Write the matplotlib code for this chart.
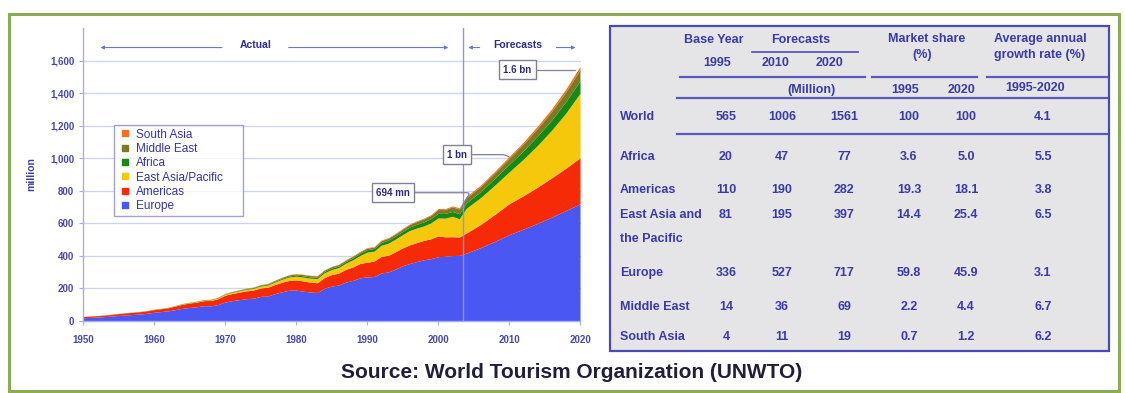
import matplotlib
matplotlib.use("Agg")
import matplotlib.pyplot as plt
from matplotlib.lines import Line2D
from matplotlib.patches import Rectangle
from matplotlib.ticker import FuncFormatter

plt.rcParams['font.family'] = ['Liberation Sans', 'DejaVu Sans']

# ---------------- data ----------------
years = list(range(1950, 2004)) + [2004, 2006, 2008, 2010, 2012, 2014, 2016, 2018, 2020]

europe = [16.8, 19, 21, 23.5, 27, 31, 34, 37, 39.5, 44,
          50.4, 55, 59, 67, 75, 80, 84, 91, 90, 98,
          113, 122, 128, 134, 137, 148, 150, 165, 176, 186,
          187, 180, 175, 172, 198, 212, 218, 236, 246, 262,
          268, 270, 292, 298, 316, 336, 350, 362, 373, 380,
          392, 394, 399, 400,
          414, 448, 486, 527, 561, 597, 635, 675, 717]
americas = [7.5, 8.3, 8.5, 9.5, 10.5, 11.5, 12.5, 13.5, 14.5, 15.5,
            16.7, 17.5, 19.5, 22, 25, 27, 29, 31, 33, 36,
            42.3, 44, 46, 48, 50, 52, 54, 56, 59, 60,
            62, 63, 60, 60, 66, 70, 73, 78, 83, 88,
            90, 95, 102, 103, 106, 110, 115, 117, 119, 122,
            128, 120, 116, 113,
            124, 142, 166, 190, 205, 222, 241, 261, 282]
east_asia_pacific = [0.2, 0.2, 0.3, 0.3, 0.3, 0.4, 0.4, 0.5, 0.5, 0.6,
                     0.7, 0.9, 1.2, 1.5, 2.0, 2.3, 2.8, 3.4, 4.0, 4.8,
                     6.2, 7.0, 8.5, 9.5, 10.5, 11.5, 13, 15, 18, 21,
                     23, 24, 25, 26, 29, 31, 34, 38, 44, 49,
                     62, 61, 68, 74, 78, 81, 88, 89, 89, 98,
                     110, 115, 125, 112,
                     152, 165, 180, 195, 224, 256, 293, 338, 397]
africa = [0.5, 0.5, 0.5, 0.5, 0.6, 0.6, 0.6, 0.7, 0.7, 0.7,
          0.8, 0.9, 1.0, 1.1, 1.3, 1.5, 1.6, 1.7, 1.9, 2.1,
          2.4, 2.7, 3.0, 3.3, 3.6, 4.2, 4.5, 5.0, 5.5, 6.3,
          7.2, 7.5, 7.8, 8.0, 8.5, 9.5, 9.5, 10, 12, 13.5,
          15.2, 16, 17.5, 18.5, 19, 20, 21, 23, 25, 26,
          28, 29, 30, 31,
          33, 37, 42, 47, 52, 58, 63, 70, 77]
middle_east = [0.2, 0.2, 0.2, 0.3, 0.3, 0.3, 0.4, 0.4, 0.5, 0.5,
               0.6, 0.7, 0.8, 0.9, 1.0, 1.1, 1.2, 1.3, 1.4, 1.6,
               1.9, 2.2, 2.5, 2.8, 3.0, 4.0, 4.4, 5.0, 5.5, 6.5,
               7.1, 7.5, 7.8, 8.0, 8.0, 8.0, 8.5, 8.5, 9.0, 9.0,
               9.6, 8.5, 11, 12, 13, 14, 15, 17, 18, 19,
               24, 23, 28, 29,
               32, 31, 33, 36, 41, 47, 53, 61, 69]
south_asia = [0.04, 0.05, 0.05, 0.05, 0.06, 0.07, 0.08, 0.1, 0.1, 0.15,
              0.2, 0.2, 0.25, 0.3, 0.35, 0.4, 0.45, 0.5, 0.6, 0.7,
              0.9, 1.0, 1.1, 1.2, 1.3, 1.5, 1.6, 1.8, 2.0, 2.1,
              2.2, 2.3, 2.4, 2.5, 2.6, 2.6, 2.7, 2.8, 2.9, 3.0,
              3.2, 3.3, 3.6, 3.6, 3.9, 4.0, 4.3, 4.6, 5.0, 5.5,
              6.0, 5.8, 6.2, 7.0,
              8, 9, 10, 11, 12, 14, 15, 17, 19]

series_names = ["Europe", "Americas", "East Asia/Pacific", "Africa", "Middle East", "South Asia"]
series_colors = ["#4b57f2", "#f72a08", "#f6c80c", "#148a14", "#7a7a22", "#f5701e"]

y_ticks = [0, 200, 400, 600, 800, 1000, 1200, 1400, 1600]
x_ticks = [1950, 1960, 1970, 1980, 1990, 2000, 2010, 2020]

# annotated points
pt_2003 = (2003.2, 694)
pt_2010 = (2010, 1006)
pt_2020 = (2019.6, 1545)
forecast_start = 2003.5

# table data
tbl_regions = ["World", "Africa", "Americas", "East Asia and\nthe Pacific", "Europe", "Middle East", "South Asia"]
tbl_1995 = ["565", "20", "110", "81", "336", "14", "4"]
tbl_2010 = ["1006", "47", "190", "195", "527", "36", "11"]
tbl_2020 = ["1561", "77", "282", "397", "717", "69", "19"]
tbl_share_1995 = ["100", "3.6", "19.3", "14.4", "59.8", "2.2", "0.7"]
tbl_share_2020 = ["100", "5.0", "18.1", "25.4", "45.9", "4.4", "1.2"]
tbl_growth = ["4.1", "5.5", "3.8", "6.5", "3.1", "6.7", "6.2"]

# ---------------- figure ----------------
W, H = 1125, 393
fig = plt.figure(figsize=(W / 100, H / 100), dpi=100)
fig.patch.set_facecolor("white")

def fx(x):
    return x / W

def fy(y):
    return 1 - y / H

# outer green frame
fig.add_artist(Rectangle((fx(9), fy(390.5)), fx(1119) - fx(9), fy(14) - fy(390.5),
                         transform=fig.transFigure, fill=False, edgecolor="#8aac52",
                         linewidth=2.2, zorder=0))

# ---------------- chart ----------------
ax = fig.add_axes([fx(83.4), fy(321), (580.5 - 83.4) / W, (321 - 28) / H])
ax.stackplot(years, europe, americas, east_asia_pacific, africa, middle_east, south_asia,
             colors=series_colors, linewidth=0, zorder=2)
ax.set_xlim(1950, 2020)
ax.set_ylim(0, 1800)
ax.set_yticks(y_ticks)
ax.set_xticks(x_ticks)
ax.yaxis.set_major_formatter(FuncFormatter(lambda v, _: f"{int(v):,}"))
ax.yaxis.grid(True, color="#ccd4ee", linewidth=0.9)
ax.set_axisbelow(True)
for s in ["top", "right"]:
    ax.spines[s].set_visible(False)
for s in ["left", "bottom"]:
    ax.spines[s].set_color("#a6aee6")
    ax.spines[s].set_linewidth(1.0)
ax.tick_params(axis="both", length=3, width=0.8, color="#a6aee6",
               labelcolor="#4848a8", labelsize=7)
ax.tick_params(axis="x", pad=7)
for lab in ax.get_xticklabels() + ax.get_yticklabels():
    lab.set_fontweight("bold")
ax.set_ylabel("million", fontsize=7.5, fontweight="bold", color="#4040a0", labelpad=10)

# forecast divider
ax.axvline(forecast_start, color="#8c94e4", linewidth=1.0, zorder=3)

# Actual / Forecasts arrows
arr_col = "#6b78d2"
def harrow(x0, x1, y):
    ax.annotate("", xy=(x1, y), xytext=(x0, y),
                arrowprops=dict(arrowstyle="-|>", color=arr_col, lw=0.8, mutation_scale=5,
                                shrinkA=0, shrinkB=0))
harrow(1969.5, 1952.4, 1680)
harrow(1978.9, 2001.4, 1680)
harrow(2005.8, 2004.2, 1680)
harrow(2016.6, 2019.3, 1680)
ax.text(1974.2, 1695, "Actual", ha="center", va="center", fontsize=7.5,
        fontweight="bold", color="#2c2c90")
ax.text(2011.2, 1695, "Forecasts", ha="center", va="center", fontsize=7.5,
        fontweight="bold", color="#2c2c90")

# boxed annotations
box = dict(boxstyle="square,pad=0.45", facecolor="white", edgecolor="#808098", linewidth=1.0)
conn_kw = dict(arrowstyle="-", color="#808098", lw=0.9, shrinkA=0, shrinkB=0)
ax.annotate("694 mn", xy=pt_2003, xytext=(1993.6, 788), ha="center", va="center",
            fontsize=7, fontweight="bold", color="#2a2a80", bbox=box,
            arrowprops=dict(connectionstyle="angle,angleA=0,angleB=60,rad=3", **conn_kw), zorder=5)
ax.annotate("1 bn", xy=pt_2010, xytext=(2002.6, 1022), ha="center", va="center",
            fontsize=7, fontweight="bold", color="#2a2a80", bbox=box,
            arrowprops=dict(connectionstyle="angle,angleA=0,angleB=-30,rad=3", **conn_kw), zorder=5)
ax.annotate("1.6 bn", xy=pt_2020, xytext=(2011.1, 1545), ha="center", va="center",
            fontsize=7, fontweight="bold", color="#2a2a80", bbox=box,
            arrowprops=dict(connectionstyle="angle,angleA=0,angleB=-30,rad=3", **conn_kw), zorder=5)

# legend (top entry = South Asia)
handles = [Line2D([], [], marker="s", linestyle="none", color=c, markersize=4.5)
           for c in series_colors][::-1]
labels = series_names[::-1]
ax_h = 321 - 28
ax_w = 580.5 - 83.4
leg = ax.legend(handles, labels, loc="upper left",
                bbox_to_anchor=((114 - 83.4) / ax_w, (321 - 221) / ax_h,
                                (243 - 114) / ax_w, (221 - 125) / ax_h),
                mode="expand", frameon=True, fancybox=False, fontsize=8.5,
                handlelength=1.3, handletextpad=0.3, labelspacing=0.2,
                borderpad=0.3, borderaxespad=0, labelcolor="#3535a0")
leg.get_frame().set_edgecolor("#8c8cc0")
leg.get_frame().set_linewidth(1.0)
leg.set_zorder(6)

# ---------------- table ----------------
tcol = "#3a3aa8"
lcol = "#5a5ab8"
fig.add_artist(Rectangle((fx(610), fy(351)), fx(1109) - fx(610), fy(26) - fy(351),
                         transform=fig.transFigure, facecolor="#e5e5e7", edgecolor="#4a4ab4",
                         linewidth=1.6, zorder=1))

def hline(x0, x1, y, lw=1.6):
    fig.add_artist(Line2D([fx(x0), fx(x1)], [fy(y), fy(y)], transform=fig.transFigure,
                          color=lcol, linewidth=lw, zorder=2))

def t(x, y, s, ha="center", va="center"):
    fig.text(fx(x), fy(y), s, ha=ha, va=va, fontsize=9, fontweight="bold", color=tcol)

hline(752, 858, 52, lw=1.3)
hline(680, 865, 77)
hline(872, 977, 77)
hline(987, 1107, 77)
hline(677, 1107, 98)
hline(677, 1107, 134)

t(714, 40, "Base Year")
t(801, 40, "Forecasts")
t(717, 63, "1995")
t(776, 63, "2010")
t(830, 63, "2020")
t(927, 39, "Market share")
t(922, 55, "(%)")
t(1040, 39, "Average annual")
t(1040, 55, "growth rate (%)")
t(812, 90, "(Million)")
t(905, 90, "1995")
t(962, 90, "2020")
t(1035, 88, "1995-2020")

row_y = [117, 157, 190, 215, 273, 307, 337]
col_x = [726, 782, 844, 909, 966, 1043]
for i, name in enumerate(tbl_regions):
    y = row_y[i]
    for j, part in enumerate(name.split("\n")):
        t(620, y + 24 * j, part, ha="left")
    vals = [tbl_1995[i], tbl_2010[i], tbl_2020[i], tbl_share_1995[i], tbl_share_2020[i], tbl_growth[i]]
    for xv, v in zip(col_x, vals):
        t(xv, y, v)

# source
fig.text(fx(572), fy(373), "Source: World Tourism Organization (UNWTO)", ha="center",
         va="center", fontsize=15, fontweight="bold", color="#1f1f3a")

fig.savefig("out.png", dpi=100)
